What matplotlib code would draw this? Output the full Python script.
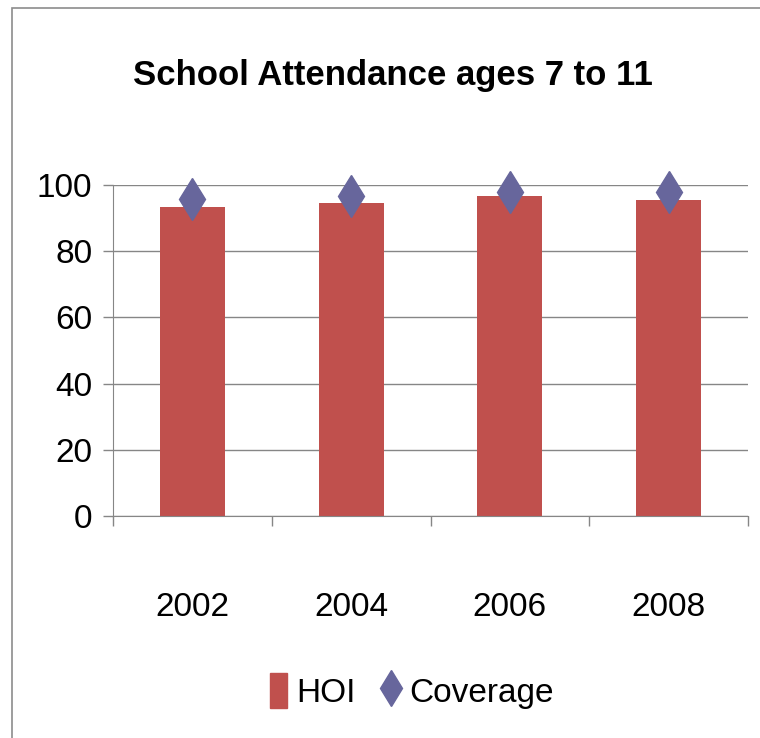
import matplotlib
matplotlib.use("Agg")
import matplotlib.pyplot as plt
from matplotlib.patches import Patch, Rectangle
from matplotlib.lines import Line2D

# datos
anios = ["2002", "2004", "2006", "2008"]
hoi = [93.5, 94.6, 96.8, 95.6]
coverage = [95.8, 96.8, 97.8, 97.8]
yticks = [0, 20, 40, 60, 80, 100]

fuente = ["Liberation Sans", "DejaVu Sans"]
plt.rcParams["font.family"] = fuente

color_barra = "#C0504D"
color_diamante = "#67669C"
gris = "#868686"

fig = plt.figure(figsize=(7.6, 7.38), dpi=100)
# marco exterior
fig.patches.append(Rectangle((12 / 760, -0.01), 1.0, (738 - 8) / 738 + 0.01,
                             transform=fig.transFigure, fill=False,
                             edgecolor="#8c8c8c", linewidth=1.2))

ax = fig.add_axes([113 / 760, 222 / 738, 635 / 760, 331 / 738])
x = list(range(len(anios)))
ax.bar(x, hoi, width=0.41, color=color_barra, zorder=2)
ax.plot(x, coverage, linestyle="none", marker="d", markersize=21.5,
        color=color_diamante, zorder=3, clip_on=False)

ax.set_xlim(-0.5, 3.5)
ax.set_ylim(0, 100)
ax.set_yticks(yticks)
ax.set_yticklabels([str(v) for v in yticks], fontsize=24)
ax.set_xticks(x)
ax.set_xticklabels(anios, fontsize=24)
ax.set_xticks([-0.5, 0.5, 1.5, 2.5, 3.5], minor=True)
ax.tick_params(axis="x", which="major", length=0, pad=55)
ax.tick_params(axis="x", which="minor", length=7, color=gris, width=1)
ax.tick_params(axis="y", length=7, color=gris, width=1, pad=8)
ax.yaxis.grid(True, color=gris, linewidth=1, zorder=0)
ax.set_axisbelow(True)
for lado in ["top", "right"]:
    ax.spines[lado].set_visible(False)
for lado in ["left", "bottom"]:
    ax.spines[lado].set_color(gris)

fig.text(393 / 760, 1 - 75 / 738, "School Attendance ages 7 to 11",
         ha="center", va="center", fontsize=25, fontweight="bold")

handles = [Patch(color=color_barra, label="HOI"),
           Line2D([], [], linestyle="none", marker="d", markersize=18,
                  color=color_diamante, label="Coverage")]
fig.legend(handles=handles, loc="center", bbox_to_anchor=(412 / 760, 1 - 691 / 738),
           ncol=2, frameon=False, fontsize=24, handlelength=0.5, handleheight=1.2,
           handletextpad=0.3, columnspacing=0.8)

fig.savefig("out.png", dpi=100)
